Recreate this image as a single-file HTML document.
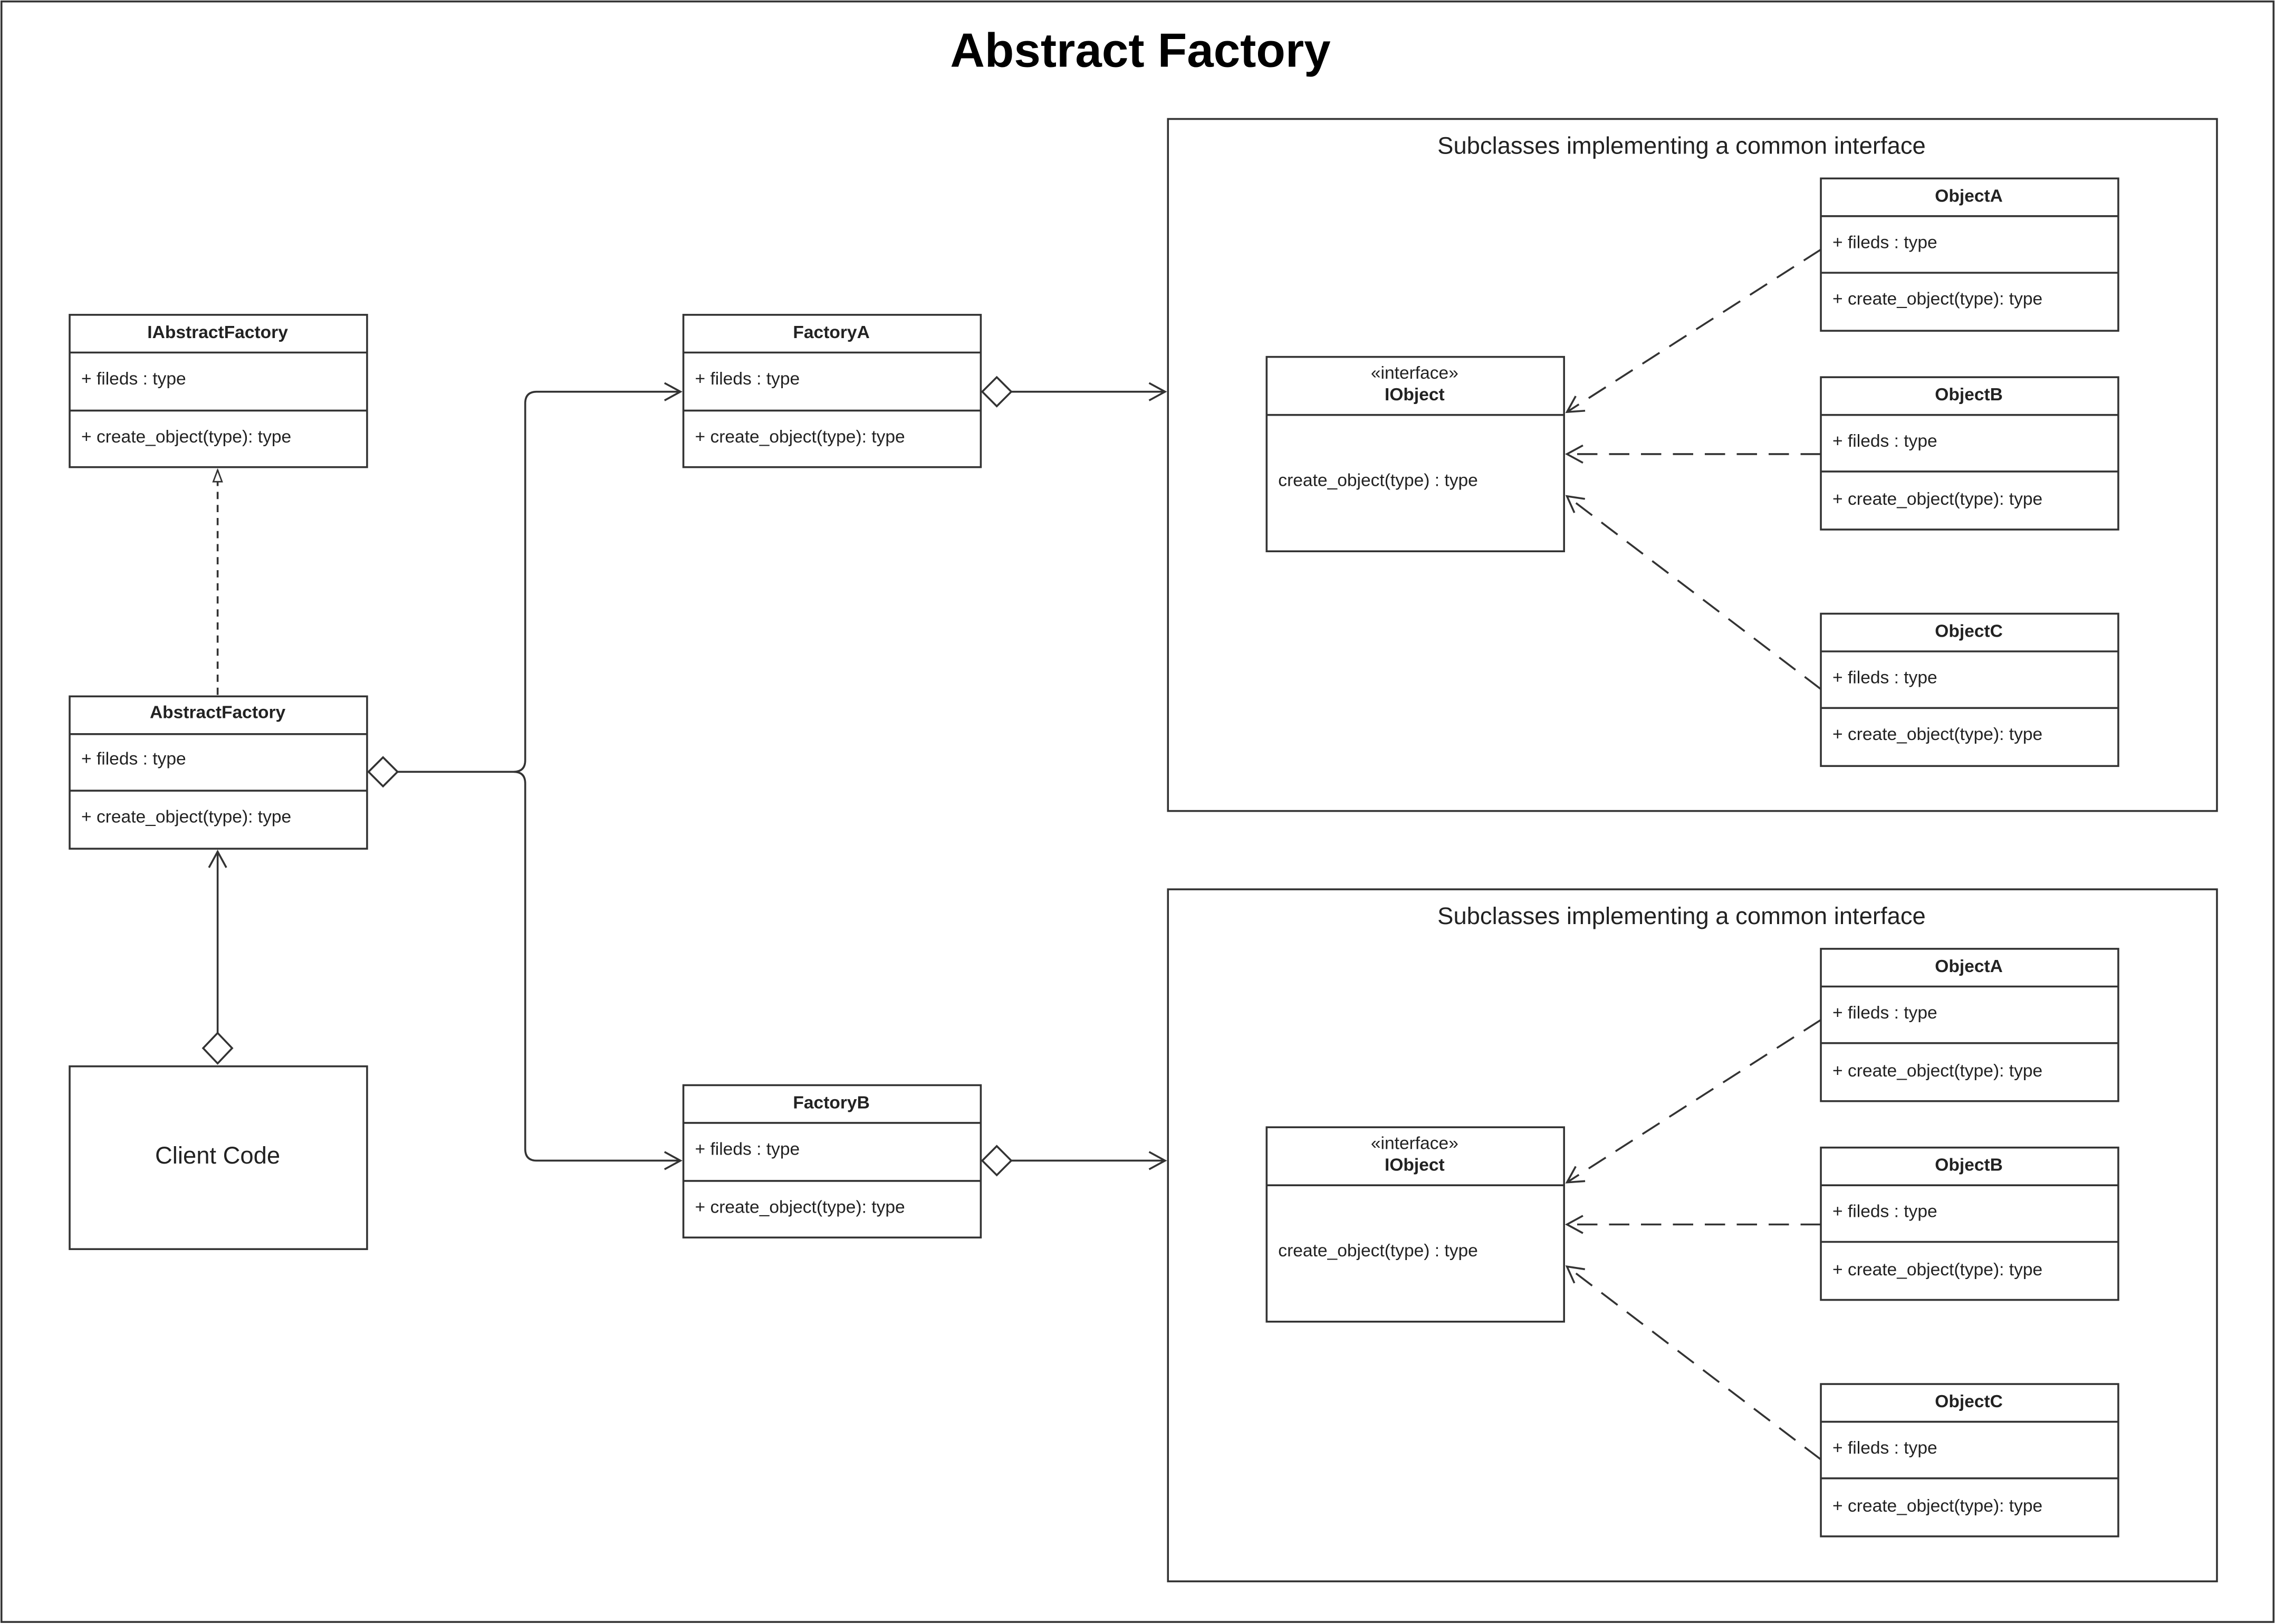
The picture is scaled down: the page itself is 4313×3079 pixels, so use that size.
<!DOCTYPE html>
<html><head><meta charset="utf-8"><style>
html,body{margin:0;padding:0;background:#fff}
svg{display:block}
text{font-family:"Liberation Sans",sans-serif;fill:#222}
</style></head><body>
<svg width="4313" height="3079" viewBox="0 0 1568 1119.4" preserveAspectRatio="none" xmlns="http://www.w3.org/2000/svg">
<defs>
<marker id="open" markerWidth="14" markerHeight="14" refX="12" refY="7" orient="auto" markerUnits="userSpaceOnUse">
<path d="M1,1 L12,7 L1,13" fill="none" stroke="#333" stroke-width="1.3"/></marker>
<marker id="tri" markerWidth="10" markerHeight="10" refX="9" refY="5" orient="auto" markerUnits="userSpaceOnUse">
<path d="M1,2 L9,5 L1,8 Z" fill="#fff" stroke="#333" stroke-width="1"/></marker>
</defs>
<rect x="1" y="1" width="1566" height="1117" fill="#fff" stroke="#333" stroke-width="1.3"/>
<text x="786" y="46" font-size="33" font-weight="bold" text-anchor="middle" style="fill:#000">Abstract Factory</text>

<g fill="#fff" stroke="#333" stroke-width="1.3">
<rect x="805" y="82" width="723" height="477"/>
<rect x="805" y="613" width="723" height="477"/>
</g>
<text x="1159" y="106" font-size="16.5" text-anchor="middle">Subclasses implementing a common interface</text>
<text x="1159" y="637" font-size="16.5" text-anchor="middle">Subclasses implementing a common interface</text>

<g id="classes" fill="none" stroke="#333" stroke-width="1.3">
<rect x="48" y="217" width="205" height="105"/><path d="M48 243H253M48 283H253"/>
<rect x="48" y="480" width="205" height="105"/><path d="M48 506H253M48 545H253"/>
<rect x="48" y="735" width="205" height="126"/>
<rect x="471" y="217" width="205" height="105"/><path d="M471 243H676M471 283H676"/>
<rect x="471" y="748" width="205" height="105"/><path d="M471 774H676M471 814H676"/>
<rect x="873" y="246" width="205" height="134"/><path d="M873 286H1078"/>
<rect x="873" y="777" width="205" height="134"/><path d="M873 817H1078"/>
<rect x="1255" y="123" width="205" height="105"/><path d="M1255 149H1460M1255 188H1460"/>
<rect x="1255" y="260" width="205" height="105"/><path d="M1255 286H1460M1255 325H1460"/>
<rect x="1255" y="423" width="205" height="105"/><path d="M1255 449H1460M1255 488H1460"/>
<rect x="1255" y="654" width="205" height="105"/><path d="M1255 680H1460M1255 719H1460"/>
<rect x="1255" y="791" width="205" height="105"/><path d="M1255 817H1460M1255 856H1460"/>
<rect x="1255" y="954" width="205" height="105"/><path d="M1255 980H1460M1255 1019H1460"/>
</g>

<g font-size="12.2">
<text x="150" y="233" font-weight="bold" text-anchor="middle">IAbstractFactory</text>
<text x="56" y="265">+ fileds : type</text><text x="56" y="305">+ create_object(type): type</text>
<text x="150" y="495" font-weight="bold" text-anchor="middle">AbstractFactory</text>
<text x="56" y="527">+ fileds : type</text><text x="56" y="567">+ create_object(type): type</text>
<text x="573" y="233" font-weight="bold" text-anchor="middle">FactoryA</text>
<text x="479" y="265">+ fileds : type</text><text x="479" y="305">+ create_object(type): type</text>
<text x="573" y="764" font-weight="bold" text-anchor="middle">FactoryB</text>
<text x="479" y="796">+ fileds : type</text><text x="479" y="836">+ create_object(type): type</text>

<text x="975" y="261" text-anchor="middle">«interface»</text>
<text x="975" y="276" font-weight="bold" text-anchor="middle">IObject</text>
<text x="881" y="335">create_object(type) : type</text>
<text x="975" y="792" text-anchor="middle">«interface»</text>
<text x="975" y="807" font-weight="bold" text-anchor="middle">IObject</text>
<text x="881" y="866">create_object(type) : type</text>

<text x="1357" y="139" font-weight="bold" text-anchor="middle">ObjectA</text>
<text x="1263" y="171">+ fileds : type</text><text x="1263" y="210">+ create_object(type): type</text>
<text x="1357" y="276" font-weight="bold" text-anchor="middle">ObjectB</text>
<text x="1263" y="308">+ fileds : type</text><text x="1263" y="348">+ create_object(type): type</text>
<text x="1357" y="439" font-weight="bold" text-anchor="middle">ObjectC</text>
<text x="1263" y="471">+ fileds : type</text><text x="1263" y="510">+ create_object(type): type</text>
<text x="1357" y="670" font-weight="bold" text-anchor="middle">ObjectA</text>
<text x="1263" y="702">+ fileds : type</text><text x="1263" y="742">+ create_object(type): type</text>
<text x="1357" y="807" font-weight="bold" text-anchor="middle">ObjectB</text>
<text x="1263" y="839">+ fileds : type</text><text x="1263" y="879">+ create_object(type): type</text>
<text x="1357" y="970" font-weight="bold" text-anchor="middle">ObjectC</text>
<text x="1263" y="1002">+ fileds : type</text><text x="1263" y="1042">+ create_object(type): type</text>
</g>
<text x="150" y="802" font-size="16.5" text-anchor="middle">Client Code</text>

<g fill="none" stroke="#333" stroke-width="1.3">
<path d="M150 479V324" stroke-dasharray="5,4" marker-end="url(#tri)"/>
<path d="M150 712V587" marker-end="url(#open)"/>
<path d="M150 712L140 722.5L150 733L160 722.5Z" fill="#fff"/>
<path d="M254 532L264 522L274 532L264 542Z" fill="#fff"/>
<path d="M274 532H354Q362 532 362 524V278Q362 270 370 270H469" marker-end="url(#open)"/>
<path d="M354 532Q362 532 362 540V792Q362 800 370 800H469" marker-end="url(#open)"/>
<path d="M677 270L687 260L697 270L687 280Z" fill="#fff"/>
<path d="M697 270H803" marker-end="url(#open)"/>
<path d="M677 800L687 790L697 800L687 810Z" fill="#fff"/>
<path d="M697 800H803" marker-end="url(#open)"/>
<g stroke-dasharray="14,8">
<path d="M1255 172L1080 284" marker-end="url(#open)"/>
<path d="M1255 313H1080" marker-end="url(#open)"/>
<path d="M1255 475L1080 342" marker-end="url(#open)"/>
<path d="M1255 703L1080 815" marker-end="url(#open)"/>
<path d="M1255 844H1080" marker-end="url(#open)"/>
<path d="M1255 1006L1080 873" marker-end="url(#open)"/>
</g>
</g>
</svg>
</body></html>
